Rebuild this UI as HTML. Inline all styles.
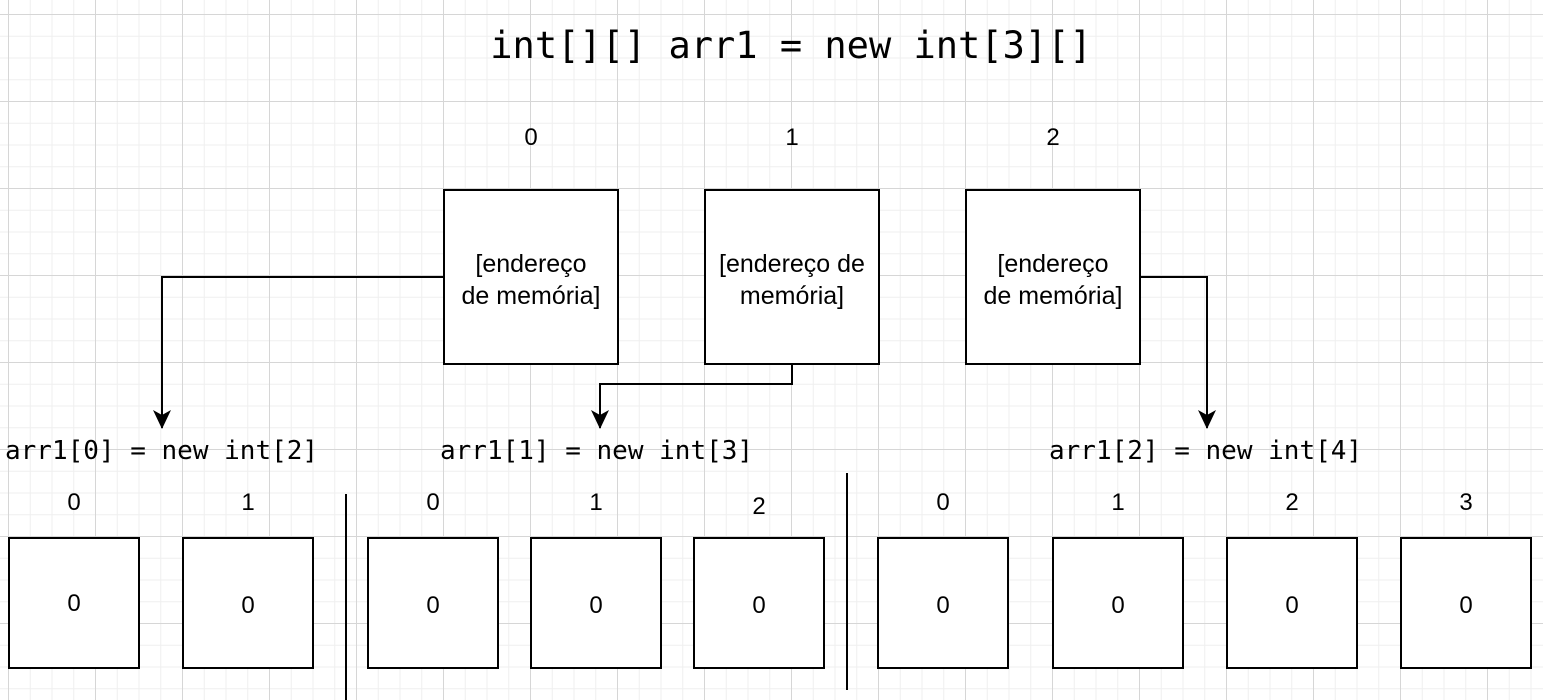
<!DOCTYPE html>
<html><head><meta charset="utf-8"><style>
html,body{margin:0;padding:0;background:#fff;}
body{width:1543px;height:700px;overflow:hidden;
background-image:
linear-gradient(#d6d6d6 1px,transparent 1px),
linear-gradient(90deg,#d6d6d6 1px,transparent 1px),
linear-gradient(#efefef 1px,transparent 1px),
linear-gradient(90deg,#efefef 1px,transparent 1px);
background-size:87px 87px,87px 87px,21.75px 21.75px,21.75px 21.75px;
background-position:0 14px,8px 0,0 14px,8px 0;}
svg{position:absolute;left:0;top:0}
.s{font-family:"Liberation Sans",Arial,sans-serif;font-size:25px;fill:#000;text-anchor:middle}
.n{font-family:"Liberation Sans",Arial,sans-serif;font-size:24px;fill:#000;text-anchor:middle}
.m{font-family:"DejaVu Sans Mono","Liberation Mono",monospace;fill:#000}
</style></head><body>
<svg width="1543" height="700" xmlns="http://www.w3.org/2000/svg">
<defs>
<marker id="b" markerWidth="20" markerHeight="20" refX="18" refY="10" orient="auto" markerUnits="userSpaceOnUse"><path d="M0,1 L19,10 L0,19 L5,10 z" fill="#000"/></marker></defs>
<text class="m" x="791" y="58" font-size="37" text-anchor="middle">int[][] arr1 = new int[3][]</text>
<text class="n" x="531" y="145">0</text>
<text class="n" x="792" y="145">1</text>
<text class="n" x="1053" y="145">2</text>
<g fill="#fff" stroke="#000" stroke-width="2">
<rect x="444" y="190" width="174" height="174"/>
<rect x="705" y="190" width="174" height="174"/>
<rect x="966" y="190" width="174" height="174"/>
</g>
<text class="s" x="531" y="272">[endereço</text><text class="s" x="531" y="304">de memória]</text>
<text class="s" x="792" y="272">[endereço de</text><text class="s" x="792" y="304">memória]</text>
<text class="s" x="1053" y="272">[endereço</text><text class="s" x="1053" y="304">de memória]</text>
<g fill="none" stroke="#000" stroke-width="2">
<path d="M444,277 H162 V428" marker-end="url(#b)"/>
<path d="M792,364 V384 H600 V428" marker-end="url(#b)"/>
<path d="M1140,277 H1207 V428" marker-end="url(#b)"/>
<line x1="346" y1="494" x2="346" y2="700"/>
<line x1="847" y1="473" x2="847" y2="690"/>
</g>
<text class="m" x="5" y="459" font-size="26">arr1[0] = new int[2]</text>
<text class="m" x="440" y="459" font-size="26">arr1[1] = new int[3]</text>
<text class="m" x="1049" y="459" font-size="26">arr1[2] = new int[4]</text>
<g fill="#fff" stroke="#000" stroke-width="2">
<rect x="9" y="538" width="130" height="130"/>
<rect x="183" y="538" width="130" height="130"/>
<rect x="368" y="538" width="130" height="130"/>
<rect x="531" y="538" width="130" height="130"/>
<rect x="694" y="538" width="130" height="130"/>
<rect x="878" y="538" width="130" height="130"/>
<rect x="1053" y="538" width="130" height="130"/>
<rect x="1227" y="538" width="130" height="130"/>
<rect x="1401" y="538" width="130" height="130"/>
</g>
<text class="n" x="74" y="510">0</text><text class="n" x="248" y="510">1</text>
<text class="n" x="433" y="510">0</text><text class="n" x="596" y="510">1</text><text class="n" x="759" y="514">2</text>
<text class="n" x="943" y="510">0</text><text class="n" x="1118" y="510">1</text><text class="n" x="1292" y="510">2</text><text class="n" x="1466" y="510">3</text>
<text class="n" x="74" y="611">0</text><text class="n" x="248" y="613">0</text>
<text class="n" x="433" y="613">0</text><text class="n" x="596" y="613">0</text><text class="n" x="759" y="613">0</text>
<text class="n" x="943" y="613">0</text><text class="n" x="1118" y="613">0</text><text class="n" x="1292" y="613">0</text><text class="n" x="1466" y="613">0</text>
</svg>
</body></html>
